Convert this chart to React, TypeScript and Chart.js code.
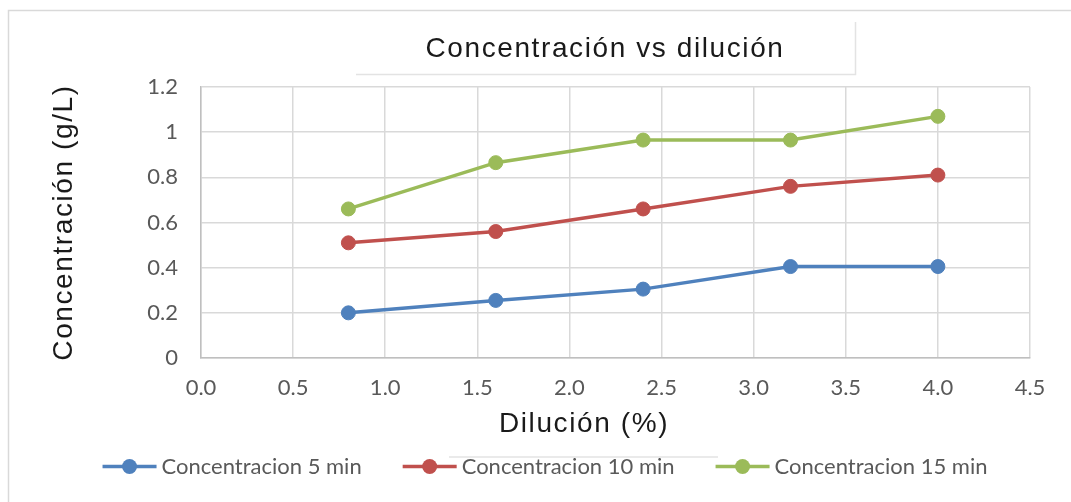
import React, { useEffect, useRef } from "react";
import { Chart, registerables } from "chart.js";

Chart.register(...registerables);

const dilution = [0.8, 1.6, 2.4, 3.2, 4.0];
const conc5 = [0.2, 0.255, 0.305, 0.405, 0.405];
const conc10 = [0.51, 0.56, 0.66, 0.76, 0.81];
const conc15 = [0.66, 0.865, 0.965, 0.965, 1.07];
const seriesLabels = ["Concentracion 5 min", "Concentracion 10 min", "Concentracion 15 min"];
const seriesColors = ["#4f81bd", "#c0504d", "#9bbb59"];
const chartTitle = "Concentración vs dilución";
const xTitle = "Dilución (%)";
const yTitle = "Concentración (g/L)";

const W = 1071;
const H = 502;

const decorPlugin = {
  id: "decor",
  beforeDraw(chart: any) {
    const ctx = chart.ctx;
    ctx.save();
    ctx.fillStyle = "#ffffff";
    ctx.fillRect(0, 0, W, H);
    ctx.strokeStyle = "#d9d9d9";
    ctx.lineWidth = 1.5;
    ctx.beginPath();
    ctx.moveTo(8.5, H);
    ctx.lineTo(8.5, 10.5);
    ctx.lineTo(W, 10.5);
    ctx.stroke();
    // title shadow
    ctx.strokeStyle = "#e3e3e3";
    ctx.lineWidth = 1.5;
    ctx.beginPath();
    ctx.moveTo(356, 74.5);
    ctx.lineTo(855.5, 74.5);
    ctx.lineTo(855.5, 22);
    ctx.stroke();
    // x title shadow
    ctx.beginPath();
    ctx.moveTo(449, 457);
    ctx.lineTo(718, 457);
    ctx.stroke();
    ctx.restore();
  },
  afterDraw(chart: any) {
    const ctx = chart.ctx;
    const area = chart.chartArea;
    ctx.save();
    ctx.fillStyle = "#1a1a1a";
    ctx.font = '28px "Liberation Sans", Arial, sans-serif';
    (ctx as any).letterSpacing = "1.6px";
    ctx.textAlign = "center";
    ctx.textBaseline = "alphabetic";
    ctx.fillText(chartTitle, 605, 57);
    ctx.fillText(xTitle, 584, 432);
    ctx.save();
    ctx.translate(72, (area.top + area.bottom) / 2);
    ctx.rotate(-Math.PI / 2);
    ctx.fillText(yTitle, 0, 0);
    ctx.restore();
    (ctx as any).letterSpacing = "0px";

    // legend
    ctx.font = '22px Lato, "Open Sans", sans-serif';
    const lineLen = 54;
    const gapText = 5;
    const gapItem = 41;
    const items = chart.data.datasets.map((ds: any) => ({
      label: ds.label,
      color: ds.borderColor,
      w: lineLen + gapText + ctx.measureText(ds.label).width,
    }));
    const total = items.reduce((s: number, it: any) => s + it.w, 0) + gapItem * (items.length - 1);
    let x = 545 - total / 2;
    const y = 466.5;
    items.forEach((it: any) => {
      ctx.strokeStyle = it.color;
      ctx.lineWidth = 3.5;
      ctx.beginPath();
      ctx.moveTo(x, y);
      ctx.lineTo(x + lineLen, y);
      ctx.stroke();
      ctx.fillStyle = it.color;
      ctx.beginPath();
      ctx.arc(x + lineLen / 2, y, 7.5, 0, Math.PI * 2);
      ctx.fill();
      ctx.fillStyle = "#595959";
      ctx.textAlign = "left";
      ctx.textBaseline = "middle";
      ctx.fillText(it.label, x + lineLen + gapText, y);
      x += it.w + gapItem;
    });
    ctx.restore();
  },
};

export default function App() {
  const ref = useRef<HTMLCanvasElement | null>(null);
  useEffect(() => {
    if (!ref.current) return;
    const series = [conc5, conc10, conc15];
    const chart = new Chart(ref.current, {
      type: "line",
      data: {
        datasets: series.map((vals, i) => ({
          label: seriesLabels[i],
          data: dilution.map((d, j) => ({ x: d, y: vals[j] })),
          borderColor: seriesColors[i],
          backgroundColor: seriesColors[i],
          borderWidth: 3.5,
          pointRadius: 7,
          pointBorderWidth: 1,
          pointBackgroundColor: seriesColors[i],
          pointBorderColor: seriesColors[i],
          tension: 0,
        })),
      },
      options: {
        responsive: false,
        animation: false,
        layout: { padding: { top: 87, right: 41, left: 0, bottom: 0 } },
        plugins: {
          legend: { display: false },
          title: { display: false },
          tooltip: { enabled: false },
        },
        scales: {
          x: {
            type: "linear",
            min: 0,
            max: 4.5,
            afterFit: (s: any) => {
              s.height = 144;
            },
            ticks: {
              stepSize: 0.5,
              padding: 17,
              color: "#595959",
              font: { family: 'Lato, "Open Sans", sans-serif', size: 22 },
              callback: (v: any) => Number(v).toFixed(1),
              maxRotation: 0,
            },
            grid: { color: "#d9d9d9", lineWidth: 1.5, drawTicks: false },
            border: { color: "#bfbfbf", width: 1.5 },
          },
          y: {
            type: "linear",
            min: 0,
            max: 1.2,
            afterFit: (s: any) => {
              s.width = 201;
            },
            ticks: {
              stepSize: 0.2,
              padding: 23,
              color: "#595959",
              font: { family: 'Lato, "Open Sans", sans-serif', size: 22 },
              callback: (v: any) => String(Math.round(Number(v) * 10) / 10),
            },
            grid: { color: "#d9d9d9", lineWidth: 1.5, drawTicks: false },
            border: { color: "#bfbfbf", width: 1.5 },
          },
        },
      },
      plugins: [decorPlugin],
    });
    return () => chart.destroy();
  }, []);
  return (
    <div style={{ position: "absolute", left: 0, top: 0, width: W, height: H }}>
      <canvas ref={ref} width={W} height={H} style={{ display: "block", width: W, height: H }} />
    </div>
  );
}
